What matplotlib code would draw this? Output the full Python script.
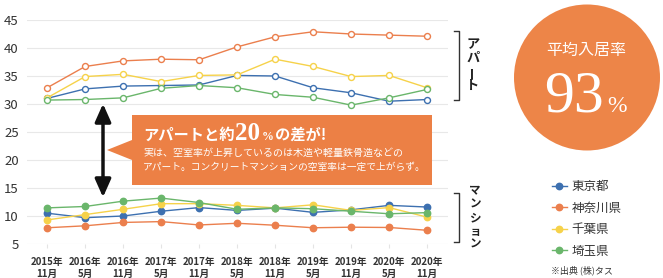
import matplotlib
matplotlib.use("Agg")
import numpy as np
import matplotlib.pyplot as plt
from matplotlib.patches import Polygon, Ellipse, FancyArrowPatch
from matplotlib.lines import Line2D

plt.rcParams['font.family'] = ['Noto Sans CJK JP', 'DejaVu Sans']

# ---------------- data ----------------
periods = ["2015年\n11月", "2016年\n5月", "2016年\n11月", "2017年\n5月", "2017年\n11月",
           "2018年\n5月", "2018年\n11月", "2019年\n5月", "2019年\n11月", "2020年\n5月", "2020年\n11月"]
prefectures = ["東京都", "神奈川県", "千葉県", "埼玉県"]

# アパート (apartment) vacancy rate
tokyo_apt = [31.0, 32.7, 33.2, 33.3, 33.4, 35.1, 35.0, 32.9, 32.0, 30.5, 30.8]
kanagawa_apt = [32.9, 36.7, 37.7, 38.0, 37.9, 40.2, 42.0, 42.9, 42.5, 42.3, 42.1]
chiba_apt = [31.1, 34.9, 35.3, 34.0, 35.1, 35.2, 38.0, 36.7, 34.9, 35.1, 32.9]
saitama_apt = [30.7, 30.8, 31.1, 32.8, 33.3, 32.9, 31.7, 31.2, 29.8, 31.1, 32.6]

# マンション (condominium) vacancy rate
tokyo_man = [10.5, 9.7, 10.0, 10.85, 11.5, 11.0, 11.4, 10.65, 11.1, 11.9, 11.6]
kanagawa_man = [7.9, 8.25, 8.85, 9.0, 8.4, 8.7, 8.35, 7.9, 8.0, 7.95, 7.45]
chiba_man = [9.3, 10.25, 11.2, 12.2, 12.2, 11.9, 11.45, 12.0, 11.0, 11.5, 9.8]
saitama_man = [11.45, 11.7, 12.65, 13.2, 12.4, 11.2, 11.45, 11.3, 10.85, 10.4, 10.6]

yticks = [5, 10, 15, 20, 25, 30, 35, 40, 45]
occupancy_label = "平均入居率"
occupancy_value = "93"

colors = ["#3d70b0", "#eb7f4d", "#f6d24a", "#6ab66b"]

# ---------------- figure ----------------
W, H = 663, 278


def fx(x):
    return x / W


def fy(y):
    return 1 - y / H


fig = plt.figure(figsize=(W / 100, H / 100), dpi=100)
ax = fig.add_axes([fx(27), fy(244), 421 / W, 224 / H])
x = np.arange(len(periods))

apt = [tokyo_apt, kanagawa_apt, chiba_apt, saitama_apt]
man = [tokyo_man, kanagawa_man, chiba_man, saitama_man]

for vals, c in zip(apt, colors):
    ax.plot(x, vals, color=c, lw=1.0, marker='o', ms=4.3, mfc='white', mec=c, mew=1.0, zorder=3)

handles = []
for vals, c, name in zip(man, colors, prefectures):
    h, = ax.plot(x, vals, color=c, lw=1.0, marker='o', ms=4.6, mfc=c, mec=c, label=name, zorder=3)
    handles.append(h)

ax.set_xlim(-0.53, 10.55)
ax.set_ylim(5, 45)
ax.set_yticks(yticks)
ax.set_xticks(x)
ax.set_xticklabels(periods, linespacing=1.3)
ax.grid(axis='y', color='#e8e8e8', lw=0.8)
ax.set_axisbelow(True)
for s in ax.spines.values():
    s.set_visible(False)
ax.tick_params(axis='y', length=0, pad=6, labelsize=9.5, labelcolor='#333333')
ax.tick_params(axis='x', length=3, color='#e4e4e4', pad=6, labelsize=7, labelcolor='#333333')
for lab in ax.get_xticklabels():
    lab.set_fontweight('bold')

# ---------------- callout ----------------
pts_px = [(132, 115), (432, 115), (432, 185), (132, 185), (132, 160), (107, 150), (132, 140)]
fig.add_artist(Polygon([(fx(a), fy(b)) for a, b in pts_px], closed=True,
                       transform=fig.transFigure, fc='#ec8045', ec='none', zorder=5))

renderer = fig.canvas.get_renderer()


def chain(pieces, x0, ybase):
    xc = x0
    for txt, kw, gap in pieces:
        t = fig.text(fx(xc), fy(ybase), txt, ha='left', va='baseline', color='white', zorder=7, **kw)
        bb = t.get_window_extent(renderer)
        xc += bb.width + gap
    return xc


jp_b = dict(fontsize=11, fontweight='bold')
chain([("アパートと約", jp_b, 1),
       ("20", dict(fontsize=18, fontweight='bold', family='Liberation Serif'), 1),
       ("%", dict(fontsize=8.5, fontweight='bold', family='Liberation Serif'), 2),
       ("の差が!", jp_b, 0)], 143, 140)

fig.text(fx(143), fy(153), "実は、空室率が上昇しているのは木造や軽量鉄骨造などの",
         ha='left', va='center', color='white', fontsize=7.2, zorder=7)
fig.text(fx(143), fy(167), "アパート。コンクリートマンションの空室率は一定で上がらず。",
         ha='left', va='center', color='white', fontsize=7.0, zorder=7)

# double-headed arrow
fig.add_artist(FancyArrowPatch((fx(103), fy(101)), (fx(103), fy(200)), transform=fig.transFigure,
                               arrowstyle='<|-|>,head_length=0.9,head_width=0.4', mutation_scale=12,
                               lw=2.5, color='#111111', zorder=6))

# ---------------- brackets ----------------
for top, bot in [(30.7, 100), (192.7, 241.7)]:
    fig.add_artist(Line2D([fx(454), fx(459), fx(459), fx(454)], [fy(top), fy(top), fy(bot), fy(bot)],
                          transform=fig.transFigure, color='#333333', lw=1.0))

for ch, yy in zip("アパート", [44, 57.5, 72, 86]):
    fig.text(fx(473), fy(yy), ch, ha='center', va='center', fontsize=9.5, fontweight='bold',
             color='#222222', rotation=90 if ch == 'ー' else 0)
for ch, yy in zip("マンション", [190, 204, 218, 231, 244]):
    fig.text(fx(475), fy(yy), ch, ha='center', va='center', fontsize=8.3, fontweight='bold',
             color='#222222')

# ---------------- circle ----------------
fig.add_artist(Ellipse((fx(587), fy(77.5)), width=146 / W, height=146 / H,
                       transform=fig.transFigure, fc='#ed8548', ec='none'))
fig.text(fx(586), fy(50), occupancy_label, ha='center', va='center', color='white', fontsize=11.5)
fig.text(fx(604), fy(112), occupancy_value, ha='right', va='baseline', color='white',
         fontsize=43, family='Liberation Serif')
fig.text(fx(607), fy(112), "%", ha='left', va='baseline', color='white',
         fontsize=17, family='Liberation Serif')

# ---------------- legend ----------------
fig.legend(handles=handles, labels=prefectures, loc='upper left',
           bbox_to_anchor=(fx(551.5), fy(180)), frameon=False, fontsize=9,
           handlelength=1.2, handletextpad=0.4, labelspacing=0.68,
           borderpad=0, borderaxespad=0, labelcolor='#333333')

fig.text(fx(551), fy(270), "※出典 (株)タス", ha='left', va='center', fontsize=6.5, color='#333333')

fig.savefig("out.png", dpi=100)
